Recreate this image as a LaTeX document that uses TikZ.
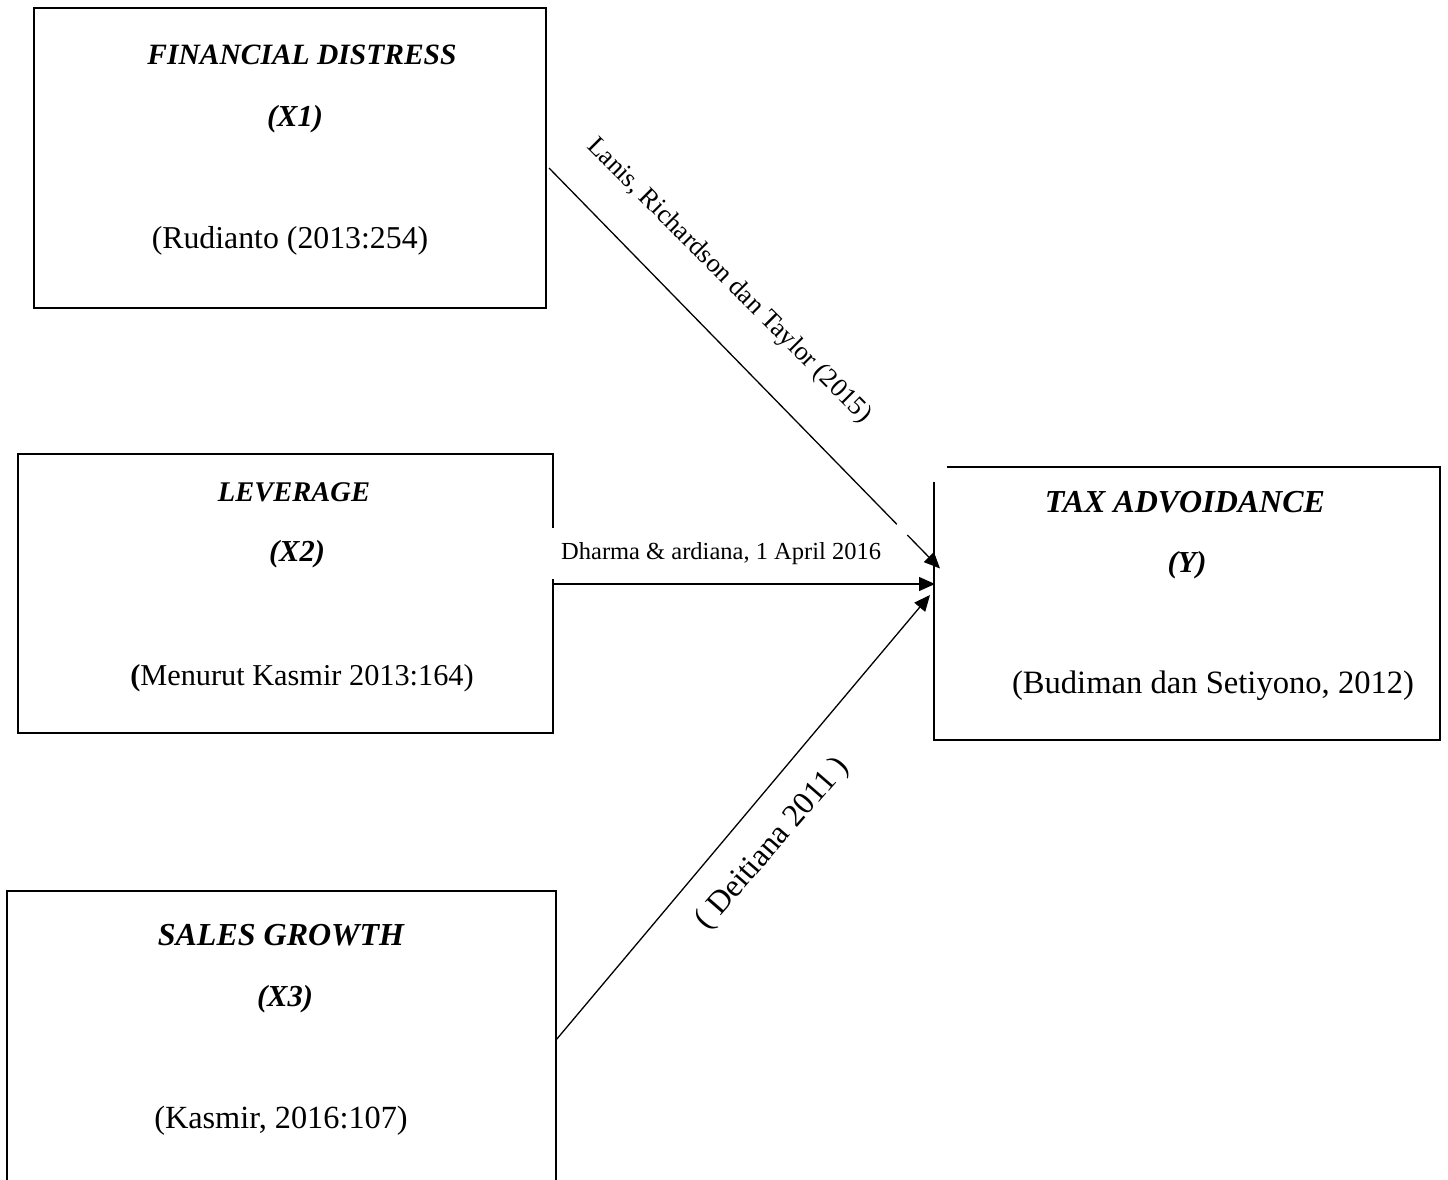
\documentclass[tikz,border=0pt]{standalone}
\usepackage{fontspec}
\setmainfont{Liberation Serif}
\usetikzlibrary{arrows.meta,calc}
\begin{document}
\begin{tikzpicture}[x=1pt,y=-1pt,
  boxnode/.style={draw=black, line width=2.4pt, rectangle, inner sep=0pt, outer sep=0pt},
  ttl/.style={anchor=base, inner sep=0pt, font=\fontsize{#1}{34}\selectfont\bfseries\itshape},
  ttl/.default=30.5,
  src/.style={anchor=base, inner sep=0pt, font=\fontsize{#1}{36}\selectfont},
  src/.default=32,
  conn/.style={line width=1.3pt, -{Triangle[length=16pt,width=14pt]}},
  lbl/.style={inner sep=0pt}
]
\useasboundingbox (0,0) rectangle (1448,1180);
\fill[white] (0,0) rectangle (1448,1180);

% boxes
\node[boxnode, minimum width=512pt, minimum height=300pt] (X1) at (290,158) {};
\node[boxnode, minimum width=535pt, minimum height=279pt] (X2) at (285.5,593.5) {};
\node[boxnode, minimum width=549pt, minimum height=298pt] (X3) at (281.5,1040) {};
\node[rectangle, inner sep=0pt, outer sep=0pt, minimum width=506pt, minimum height=273pt] (Y) at (1187,603.5) {};
\draw[line width=2.4pt] ($(Y.north west)+(13,0)$) -- (Y.north east) -- (Y.south east) -- (Y.south west) -- ($(Y.north west)+(0,15)$);

% texts X1
\node[ttl=29.5] (x1a) at (302,65) {FINANCIAL DISTRESS};
\node[ttl] (x1b) at (295,127) {(X1)};
\node[src=31.8] (x1c) at (290,248) {(Rudianto (2013:254)};
% texts X2
\node[ttl=28.5] (x2a) at (294,501) {LEVERAGE};
\node[ttl] (x2b) at (297,561) {(X2)};
\node[src=30.3] (x2c) at (302,685) {\textbf{(}Menurut Kasmir 2013:164)};
% texts X3
\node[ttl=32] (x3a) at (281,945) {SALES GROWTH};
\node[ttl] (x3b) at (285,1006) {(X3)};
\node[src=32.3] (x3c) at (281,1128) {(Kasmir, 2016:107)};
% texts Y
\node[ttl=32] (ya) at (1185,512) {TAX ADVOIDANCE};
\node[ttl] (yb) at (1187,572) {(Y)};
\node[src=32.6] (yc) at (1213,693) {(Budiman dan Setiyono, 2012)};

% connector end points
\coordinate (s1) at ($(X1.east)+(3,10)$);
\coordinate (t1) at ($(Y.west)+(6,-35)$);
\coordinate (s2) at ($(X2.east)+(0,-9.5)$);
\coordinate (t2) at ($(Y.west)+(1,-19.5)$);
\coordinate (s3) at ($(X3.east)+(0,0)$);
\coordinate (t3) at ($(Y.west)+(-4,-8.5)$);

% label of X2 -> Y (white box hides part of the X2 border)
\node[lbl, fill=white, anchor=west, minimum height=51pt, inner xsep=12pt, font=\fontsize{24.5}{28}\selectfont] (l2) at ($(X2.east)+(-4,-40)$) {Dharma \& ardiana, 1 April 2016};

% connectors
\draw[conn, dash pattern=on 498pt off 15pt on 200pt] (s1) -- (t1);
\draw[conn] (s2) -- (t2);
\draw[conn] (s3) -- (t3);

% rotated labels
\node[lbl, rotate=-45, font=\fontsize{26.5}{30}\selectfont] (l1) at (729,281) {Lanis, Richardson dan Taylor (2015)};
\node[lbl, rotate=49, font=\fontsize{32}{36}\selectfont] (l3) at (773,844) {( Deitiana 2011 )};
\end{tikzpicture}
\end{document}
